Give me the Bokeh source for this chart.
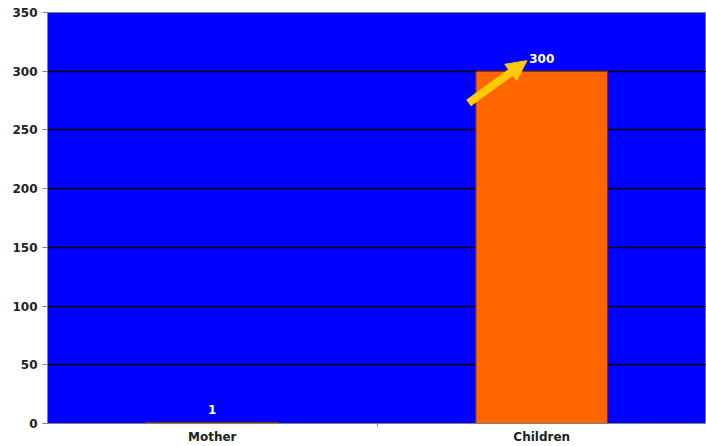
from bokeh.plotting import figure
from bokeh.models import ColumnDataSource, LabelSet, Arrow, NormalHead, FixedTicker, Range1d
from bokeh.core.properties import value
from bokeh.embed import file_html
from bokeh.resources import INLINE

categories = ["Mother", "Children"]
values = [1, 300]
y_ticks = [0, 50, 100, 150, 200, 250, 300, 350]

xpos = [i + 0.5 for i in range(len(categories))]
src = ColumnDataSource(dict(x=xpos, top=values, label=[str(v) for v in values]))

FONT = "DejaVu Sans"

p = figure(width=706, height=446, output_backend="svg", toolbar_location=None,
           x_range=Range1d(0, 2), y_range=Range1d(0, 350),
           min_border_left=47, min_border_right=0, min_border_top=12, min_border_bottom=0)
p.background_fill_color = "#0000FF"
p.border_fill_color = "white"
p.outline_line_color = "#808080"

p.vbar(x="x", top="top", bottom=0, width=0.4, source=src,
       fill_color="#FF6600", line_color="#8B2500", line_width=1)

labels = LabelSet(x="x", y="top", text="label", source=src, y_offset=8,
                  text_align="center", text_baseline="bottom",
                  text_color="white", text_font=value(FONT),
                  text_font_style="bold", text_font_size="12px")
p.add_layout(labels)

# highlight arrow pointing at the Children value
cx = xpos[1]
cv = values[1]
p.add_layout(Arrow(x_start=cx - 0.222, y_start=cv - 27, x_end=cx - 0.045, y_end=cv + 9,
                   line_color="#FFCC00", line_width=8,
                   end=NormalHead(size=20, fill_color="#FFCC00", line_color="#FFCC00")))

p.xaxis.ticker = FixedTicker(ticks=xpos, minor_ticks=[1.0])
p.xaxis.major_label_overrides = {x: c for x, c in zip(xpos, categories)}
p.xaxis.minor_tick_line_color = "#808080"
p.xaxis.minor_tick_out = 3
p.xaxis.minor_tick_in = 0
p.xaxis.major_tick_out = 0
p.xaxis.major_tick_in = 0
p.yaxis.ticker = FixedTicker(ticks=y_ticks)
p.yaxis.minor_tick_line_color = None
p.yaxis.major_tick_in = 0
p.yaxis.major_tick_out = 5
for ax in (p.xaxis, p.yaxis):
    ax.axis_line_color = "#808080"
    ax.major_label_text_font = FONT
    ax.major_label_text_font_style = "bold"
    ax.major_label_text_font_size = "12px"
    ax.major_label_text_color = "#222222"
p.xaxis.major_tick_line_color = None
p.yaxis.major_tick_line_color = "#808080"
p.xaxis.major_label_standoff = 3
p.yaxis.major_label_standoff = 5

p.xgrid.grid_line_color = None
p.ygrid.grid_line_color = "black"
p.ygrid.grid_line_width = 1.3

open("out.html", "w").write(file_html(p, INLINE))
